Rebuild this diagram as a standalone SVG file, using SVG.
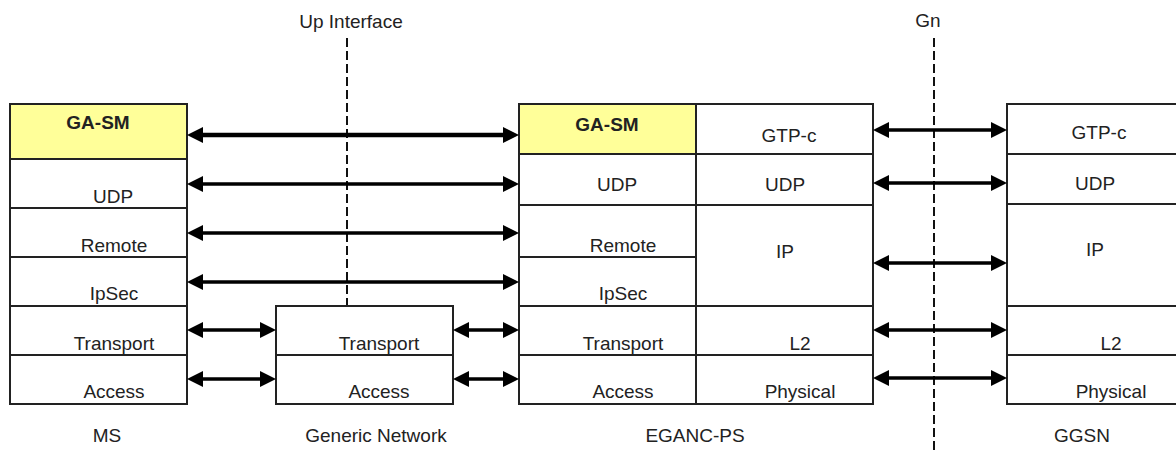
<svg xmlns="http://www.w3.org/2000/svg" width="1176" height="450" viewBox="0 0 1176 450">
<style>
text{font-family:"Liberation Sans",Arial,sans-serif;font-size:19px;fill:#222;text-anchor:middle}
.b{font-weight:bold}
.box{fill:#fff;stroke:#222;stroke-width:2}
.y{fill:#ffff99}
.ln{stroke:#222;stroke-width:2;fill:none}
.dash{stroke:#111;stroke-width:2;stroke-dasharray:9 4;fill:none}
.ar{stroke:#000;stroke-width:3.5;fill:none;marker-start:url(#ah);marker-end:url(#ah)}
.thick{stroke-width:4.5}
</style>
<defs>
<marker id="ah" markerUnits="userSpaceOnUse" markerWidth="16" markerHeight="16" refX="6" refY="8" orient="auto-start-reverse" viewBox="0 0 16 16">
<path d="M0,0 L16,8 L0,16 z" fill="#000"/>
</marker>
</defs>
<g id="interfaces">
<line class="dash" x1="347" y1="38" x2="347" y2="306"/>
<text x="351" y="28">Up Interface</text>
<line class="dash" x1="934" y1="38" x2="934" y2="450"/>
<text x="928" y="27">Gn</text>
</g>
<g id="ms">
<rect class="box y" x="10" y="104" width="177" height="55"/>
<rect class="box" x="10" y="159" width="177" height="49"/>
<rect class="box" x="10" y="208" width="177" height="49"/>
<rect class="box" x="10" y="257" width="177" height="49"/>
<rect class="box" x="10" y="306" width="177" height="49"/>
<rect class="box" x="10" y="355" width="177" height="49"/>
<text class="b" x="98" y="129">GA-SM</text>
<text x="113" y="203">UDP</text>
<text x="114" y="252">Remote</text>
<text x="114" y="300">IpSec</text>
<text x="114" y="350">Transport</text>
<text x="114" y="398">Access</text>
<text x="107" y="442">MS</text>
</g>
<g id="generic-network">
<rect class="box" x="276" y="306" width="177" height="49"/>
<rect class="box" x="276" y="355" width="177" height="49"/>
<text x="379" y="350">Transport</text>
<text x="379" y="398">Access</text>
<text x="376" y="442">Generic Network</text>
</g>
<g id="eganc-ps">
<rect class="box y" x="519" y="104" width="177" height="50"/>
<rect class="box" x="519" y="154" width="177" height="51"/>
<rect class="box" x="519" y="205" width="177" height="52"/>
<rect class="box" x="519" y="257" width="177" height="49"/>
<rect class="box" x="519" y="306" width="177" height="49"/>
<rect class="box" x="519" y="355" width="177" height="49"/>
<rect class="box" x="696" y="104" width="177" height="50"/>
<rect class="box" x="696" y="154" width="177" height="51"/>
<rect class="box" x="696" y="205" width="177" height="101"/>
<rect class="box" x="696" y="306" width="177" height="49"/>
<rect class="box" x="696" y="355" width="177" height="49"/>
<text class="b" x="607" y="131">GA-SM</text>
<text x="617" y="191">UDP</text>
<text x="623" y="252">Remote</text>
<text x="623" y="300">IpSec</text>
<text x="623" y="350">Transport</text>
<text x="623" y="398">Access</text>
<text x="789" y="142">GTP-c</text>
<text x="785" y="191">UDP</text>
<text x="785" y="258">IP</text>
<text x="800" y="350">L2</text>
<text x="800" y="398">Physical</text>
<text x="695" y="442">EGANC-PS</text>
</g>
<g id="ggsn">
<rect class="box" x="1007" y="104" width="180" height="50"/>
<rect class="box" x="1007" y="154" width="180" height="50"/>
<rect class="box" x="1007" y="204" width="180" height="102"/>
<rect class="box" x="1007" y="306" width="180" height="49"/>
<rect class="box" x="1007" y="355" width="180" height="49"/>
<text x="1099" y="139">GTP-c</text>
<text x="1095" y="190">UDP</text>
<text x="1095" y="256">IP</text>
<text x="1111" y="350">L2</text>
<text x="1111" y="398">Physical</text>
<text x="1082" y="442">GGSN</text>
</g>
<g id="connectors">
<line class="ar thick" x1="197" y1="135" x2="509" y2="135"/>
<line class="ar" x1="197" y1="184" x2="509" y2="184"/>
<line class="ar" x1="197" y1="233" x2="509" y2="233"/>
<line class="ar" x1="197" y1="282" x2="509" y2="282"/>
<line class="ar" x1="197" y1="330" x2="266" y2="330"/>
<line class="ar" x1="197" y1="379" x2="266" y2="379"/>
<line class="ar" x1="463" y1="330" x2="509" y2="330"/>
<line class="ar" x1="463" y1="379" x2="509" y2="379"/>
<line class="ar" x1="883" y1="130" x2="997" y2="130"/>
<line class="ar" x1="883" y1="183" x2="997" y2="183"/>
<line class="ar" x1="883" y1="263" x2="997" y2="263"/>
<line class="ar" x1="883" y1="330" x2="997" y2="330"/>
<line class="ar" x1="883" y1="378" x2="997" y2="378"/>
</g>
</svg>
